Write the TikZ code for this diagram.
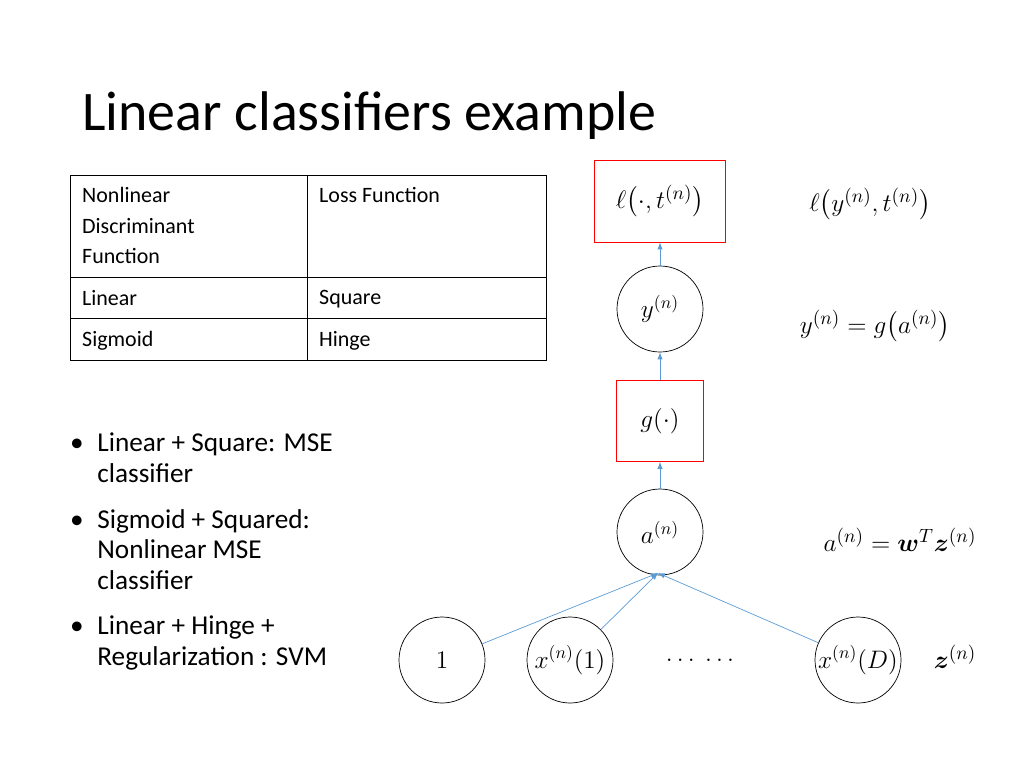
\documentclass[tikz,border=0pt]{standalone}
\usepackage{fontspec}
\setmainfont{Carlito}
\usepackage{amsmath,bm}
\definecolor{linkblue}{RGB}{91,155,213}
\begin{document}
\begin{tikzpicture}[x=0.02cm,y=-0.02cm,>=latex]
    \useasboundingbox (0,0) rectangle (1024,768);
    \tikzset{
      mathfont/.style={font=\fontsize{15}{18}\selectfont},
      unit/.style={circle,draw,minimum size=86*0.02cm,inner sep=-2pt,font=\fontsize{14}{16}\selectfont},
      redbox/.style={draw=red,minimum width=#1,inner sep=0pt,mathfont},
      link/.style={->,linkblue,thin},
      cell/.style={anchor=north west,align=left,font=\fontsize{12.5}{17.5}\selectfont},
      bullet/.style={anchor=north west,align=left,font=\fontsize{15.5}{17.5}\selectfont}
    }
    % Title
    \node[anchor=base west,inner sep=0pt,font=\fontsize{31.8}{36}\selectfont] (title) at (82,130) {Linear classifiers example};

    % Table
    \draw (70,175) rectangle (546,360) (307,175) -- (307,360)
          (70,277) -- (546,277) (70,318) -- (546,318);
    \path
    (76,181)  node[cell] (c11) {Nonlinear\\Discriminant\\Function}
    (313,181) node[cell] (c12) {Loss Function}
    (76,284)  node[cell] (c21) {Linear}
    (313,284) node[cell] (c22) {Square}
    (76,325)  node[cell] (c31) {Sigmoid}
    (313,325) node[cell] (c32) {Hinge};

    % Bullets
    \path
    (64,427) node[bullet] (b1) {\textbullet\hspace{0.5em}\parbox[t]{5.5cm}{Linear + Square: MSE\\classifier}}
    (64,503) node[bullet] (b2) {\textbullet\hspace{0.5em}\parbox[t]{5.5cm}{Sigmoid + Squared:\\Nonlinear MSE\\classifier}}
    (64,610) node[bullet] (b3) {\textbullet\hspace{0.5em}\parbox[t]{5.5cm}{Linear + Hinge +\\Regularization : SVM}};

    % Graph
    \path
    (660,201) node[redbox=131*0.02cm,minimum height=82*0.02cm] (loss) {$\ell\big(\cdot,t^{(n)}\big)$}
    (660,309) node[unit] (y) {$y^{(n)}$}
    (660,421) node[redbox=87*0.02cm,minimum height=81*0.02cm] (g) {$g(\cdot)$}
    (660,532) node[unit] (a) {$a^{(n)}$}
    (442,660) node[unit] (one) {$1$}
    (570,660) node[unit] (x1) {$x^{(n)}(1)$}
    (700,660) node[mathfont] (dots) {$\ldots\ \ldots$}
    (858,660) node[unit] (xD) {$x^{(n)}(D)$}
    (955,657) node[mathfont] (z) {$\bm{z}^{(n)}$};
    \coordinate (ain) at (658,573);

    % Equations
    \path
    (870,204) node[mathfont] (eqloss) {$\ell\big(y^{(n)},t^{(n)}\big)$}
    (875,326) node[mathfont] (eqy) {$y^{(n)}=g\big(a^{(n)}\big)$}
    (900,540) node[mathfont] (eqa) {$a^{(n)}=\bm{w}^T\bm{z}^{(n)}$};

    % Links
    \draw[link] (a)--(g);
    \draw[link] (g)--(y);
    \draw[link] (y)--(loss);
    \draw[link] (one)--(ain);
    \draw[link] (x1)--(ain);
    \draw[link] (xD)--(ain);
\end{tikzpicture}
\end{document}
